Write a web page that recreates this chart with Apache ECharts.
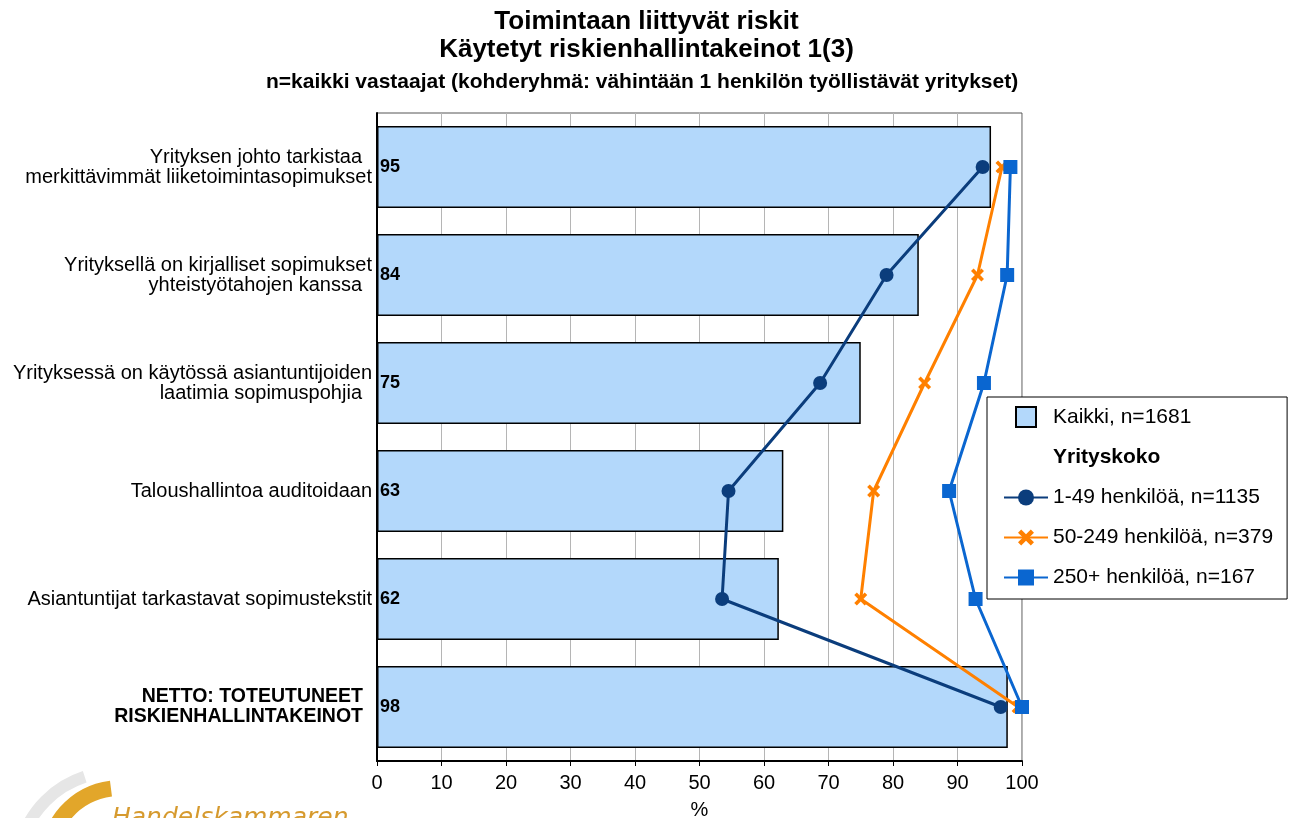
<!DOCTYPE html>
<html><head><meta charset="utf-8">
<script src="https://cdn.jsdelivr.net/npm/echarts@6/dist/echarts.min.js"></script>
<style>html,body{margin:0;padding:0;background:#fff}#c{width:1293px;height:818px}</style>
</head><body><div id="c"></div>
<script>
const categories = [
  'Yrityksen johto tarkistaa\nmerkittävimmät liiketoimintasopimukset',
  'Yrityksellä on kirjalliset sopimukset\nyhteistyötahojen kanssa',
  'Yrityksessä on käytössä asiantuntijoiden\nlaatimia sopimuspohjia',
  'Taloushallintoa auditoidaan',
  'Asiantuntijat tarkastavat sopimustekstit',
  'NETTO: TOTEUTUNEET\nRISKIENHALLINTAKEINOT'
];
const kaikki = [95.2, 84.0, 75.0, 63.0, 62.3, 97.8];
const size1to49 = [93.9, 79.0, 68.7, 54.5, 53.5, 96.7];
const size50to249 = [96.9, 93.1, 84.9, 77.0, 75.0, 99.4];
const size250plus = [98.2, 97.7, 94.1, 88.7, 92.8, 100.0];
const xTicks = [0, 10, 20, 30, 40, 50, 60, 70, 80, 90, 100];
const seriesNames = ['Kaikki, n=1681', 'Yrityskoko', '1-49 henkilöä, n=1135', '50-249 henkilöä, n=379', '250+ henkilöä, n=167'];

const FONT = '"Liberation Sans", Arial, sans-serif';
const crossPath = 'path://M2,0 L5,3 L8,0 L10,2 L7,5 L10,8 L8,10 L5,7 L2,10 L0,8 L3,5 L0,2 Z';

function yLabel(v, i) {
  const lines = v.split('\n');
  if (i === categories.length - 1) return lines.map(l => '{b|' + l + '}').join('\n');
  const maxLen = Math.max.apply(null, lines.map(l => l.length));
  return lines.map(l => (lines.length > 1 && l.length < maxLen ? '{s|' : '{n|') + l + '}').join('\n');
}

const chart = echarts.init(document.getElementById('c'), null, {renderer: 'canvas'});
chart.setOption({
  animation: false,
  textStyle: {fontFamily: FONT},
  title: [
    {text: 'Toimintaan liittyvät riskit\nKäytetyt riskienhallintakeinot 1(3)', left: 'center', top: 3,
     textStyle: {fontFamily: FONT, fontSize: 26, fontWeight: 'bold', color: '#000', lineHeight: 28}},
    {text: 'n=kaikki vastaajat (kohderyhmä: vähintään 1 henkilön työllistävät yritykset)', left: 261, top: 67,
     textStyle: {fontFamily: FONT, fontSize: 21, fontWeight: 'bold', color: '#000'}}
  ],
  grid: {left: 377, right: 271, top: 113, bottom: 57, show: true, borderColor: '#555', borderWidth: 1,
         containLabel: false, outerBoundsMode: 'none'},
  xAxis: {
    type: 'value', min: 0, max: 100, interval: 10,
    axisLine: {show: true, lineStyle: {color: '#000', width: 2}},
    axisTick: {show: true, length: 5, lineStyle: {color: '#000'}},
    axisLabel: {color: '#000', fontSize: 20, fontFamily: FONT, margin: 12,
      formatter: v => xTicks.indexOf(v) >= 0 ? String(v) : ''},
    splitLine: {show: true, lineStyle: {color: '#b5b5b5', width: 1}},
    name: '%', nameLocation: 'middle', nameGap: 39,
    nameTextStyle: {color: '#000', fontSize: 20, fontFamily: FONT}
  },
  yAxis: {
    type: 'category', inverse: true, data: categories,
    axisLine: {show: true, lineStyle: {color: '#000', width: 2}},
    axisTick: {show: false},
    axisLabel: {color: '#000', fontSize: 20, fontFamily: FONT, margin: 5, lineHeight: 20,
      formatter: yLabel,
      rich: {
        n: {fontSize: 20, fontFamily: FONT, color: '#000', lineHeight: 20},
        s: {fontSize: 20, fontFamily: FONT, color: '#000', lineHeight: 20, padding: [0, 10, 0, 0]},
        b: {fontWeight: 'bold', fontSize: 19.5, fontFamily: FONT, color: '#000', lineHeight: 20, padding: [0, 9, 0, 0]}
      }
    }
  },
  legend: {
    orient: 'vertical', left: 987, top: 397,
    backgroundColor: '#fff', borderColor: '#000', borderWidth: 1,
    padding: [9, 14, 11, 16], itemGap: 19, itemWidth: 44, itemHeight: 20, itemTextGap: 15,
    textStyle: {fontSize: 21, fontFamily: FONT, color: '#000'},
    data: [
      {name: seriesNames[0], icon: 'path://M0,0H10V10H0Z'},
      {name: seriesNames[1], icon: 'none', textStyle: {fontWeight: 'bold'}},
      seriesNames[2], seriesNames[3], seriesNames[4]
    ]
  },
  series: [
    {name: seriesNames[0], type: 'bar', data: kaikki, barWidth: 82,
     itemStyle: {color: '#b3d8fb', borderColor: '#000', borderWidth: 1.5},
     label: {show: true, position: 'insideLeft', distance: 3, color: '#000', fontWeight: 'bold', fontSize: 18, fontFamily: FONT,
       formatter: p => Math.round(p.value)}},
    {name: seriesNames[1], type: 'line', data: []},
    {name: seriesNames[2], type: 'line', data: size1to49, symbol: 'circle', symbolSize: 14,
     lineStyle: {color: '#0b3d7c', width: 3}, itemStyle: {color: '#0b3d7c'}, z: 5},
    {name: seriesNames[3], type: 'line', data: size50to249, symbol: crossPath, symbolSize: 13,
     lineStyle: {color: '#ff8000', width: 3}, itemStyle: {color: '#ff8000'}, z: 4},
    {name: seriesNames[4], type: 'line', data: size250plus, symbol: 'rect', symbolSize: 14,
     lineStyle: {color: '#0a66d0', width: 3}, itemStyle: {color: '#0a66d0'}, z: 6}
  ],
  graphic: [
    {type: 'arc', shape: {cx: 115, cy: 870, r: 98, startAngle: Math.PI * 1.1, endAngle: Math.PI * 1.4},
     style: {stroke: '#e6e6e6', lineWidth: 12, fill: null}, z: 0},
    {type: 'arc', shape: {cx: 120, cy: 860, r: 72, startAngle: Math.PI * 1.0, endAngle: Math.PI * 1.46},
     style: {stroke: '#e2a62a', lineWidth: 16, fill: null}, z: 1},
    {type: 'text', left: 112, top: 806,
     style: {text: 'Handelskammaren', fill: '#d69a2e', font: 'italic 25px "DejaVu Sans", sans-serif'}, z: 2}
  ]
});
</script></body></html>
